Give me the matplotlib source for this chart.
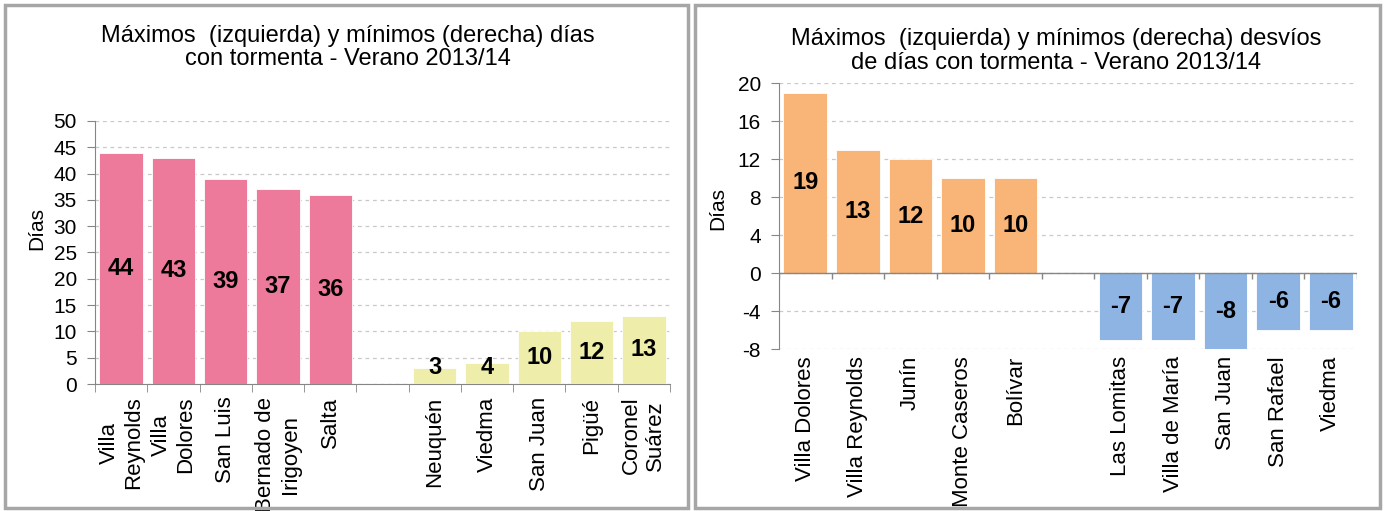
import matplotlib.pyplot as plt
from matplotlib.patches import Rectangle

plt.rcParams['font.family'] = ['Liberation Sans', 'DejaVu Sans']
plt.rcParams['axes.unicode_minus'] = False

# datos panel izquierdo: dias con tormenta
max_ciudades = ['Villa\nReynolds', 'Villa\nDolores', 'San Luis', 'Bernado de\nIrigoyen', 'Salta']
max_dias = [44, 43, 39, 37, 36]
min_ciudades = ['Neuquén', 'Viedma', 'San Juan', 'Pigüé', 'Coronel\nSuárez']
min_dias = [3, 4, 10, 12, 13]

# datos panel derecho: desvios
max_ciudades_desv = ['Villa Dolores', 'Villa Reynolds', 'Junín', 'Monte Caseros', 'Bolívar']
max_desvios = [19, 13, 12, 10, 10]
min_ciudades_desv = ['Las Lomitas', 'Villa de María', 'San Juan', 'San Rafael', 'Viedma']
min_desvios = [-7, -7, -8, -6, -6]

rosa = '#EE7A9B'
amarillo = '#EEEEAA'
naranja = '#F9B477'
azul = '#8DB4E2'
gris = '#868686'

fig = plt.figure(figsize=(13.86, 5.11), dpi=100)

# marcos de cada panel
for x0, w in [(5 / 1386, 683 / 1386), (695 / 1386, 685 / 1386)]:
    fig.patches.append(Rectangle((x0, 0.005), w, 0.985, transform=fig.transFigure,
                                 fill=False, edgecolor='#A6A6A6', linewidth=2.5))


def panel(ax, cats1, vals1, c1, cats2, vals2, c2, ymin, ymax, ystep, pad_lab):
    cats = cats1 + [''] + cats2
    pos1 = list(range(len(cats1)))
    pos2 = [len(cats1) + 1 + i for i in range(len(cats2))]
    ax.bar(pos1, vals1, width=0.83, color=c1, edgecolor='white', linewidth=0.6, zorder=3)
    ax.bar(pos2, vals2, width=0.83, color=c2, edgecolor='white', linewidth=0.6, zorder=3)
    for p, v in zip(pos1 + pos2, vals1 + vals2):
        yv = v / 2
        if 0 < v < 6:
            yv = 3.1
        ax.text(p, yv, str(v), ha='center', va='center', fontsize=17,
                fontweight='bold', color='black', zorder=4)
    ax.set_xlim(-0.5, len(cats) - 0.5)
    ax.set_ylim(ymin, ymax)
    ax.set_yticks(range(ymin, ymax + 1, ystep))
    ax.yaxis.grid(True, linestyle=(0, (3, 3)), color='#C8C8C8', linewidth=0.9, zorder=0)
    ax.set_xticks(range(len(cats)))
    ax.set_xticklabels(cats, rotation=90, ha='center', va='top', multialignment='center')
    ax.tick_params(axis='x', length=0, labelsize=16, pad=pad_lab)
    ax.tick_params(axis='y', length=6, color=gris, labelsize=15, pad=7)
    for s in ['top', 'right']:
        ax.spines[s].set_visible(False)
    ax.spines['left'].set_color(gris)
    ax.set_ylabel('Días', fontsize=15)
    return cats


# panel izquierdo
ax1 = fig.add_axes([95 / 1386, 127 / 511, 575 / 1386, 263 / 511])
cats = panel(ax1, max_ciudades, max_dias, rosa, min_ciudades, min_dias, amarillo, 0, 50, 5, 9)
ax1.spines['bottom'].set_color(gris)
ax1.set_xticks([i - 0.5 for i in range(len(cats) + 1)], minor=True)
ax1.tick_params(axis='x', which='minor', length=6, color=gris)
ax1.yaxis.set_label_coords(-0.085, 0.59)
ax1.set_title('Máximos  (izquierda) y mínimos (derecha) días\ncon tormenta - Verano 2013/14',
              fontsize=17, linespacing=1.1, pad=40, x=0.44)

# panel derecho
ax2 = fig.add_axes([779 / 1386, 162 / 511, 578 / 1386, 266 / 511])
cats = panel(ax2, max_ciudades_desv, max_desvios, naranja, min_ciudades_desv, min_desvios, azul, -8, 20, 4, 5)
ax2.spines['bottom'].set_visible(False)
ax2.axhline(0, color=gris, linewidth=1, zorder=5)
ax2.vlines([i - 0.5 for i in range(len(cats) + 1)], 0, -0.6, color=gris, linewidth=1, zorder=5)
ax2.yaxis.set_label_coords(-0.09, 0.53)
ax2.set_title('Máximos  (izquierda) y mínimos (derecha) desvíos\nde días con tormenta - Verano 2013/14',
              fontsize=17, linespacing=1.1, pad=10, x=0.48)

fig.savefig('out.png', dpi=100)
